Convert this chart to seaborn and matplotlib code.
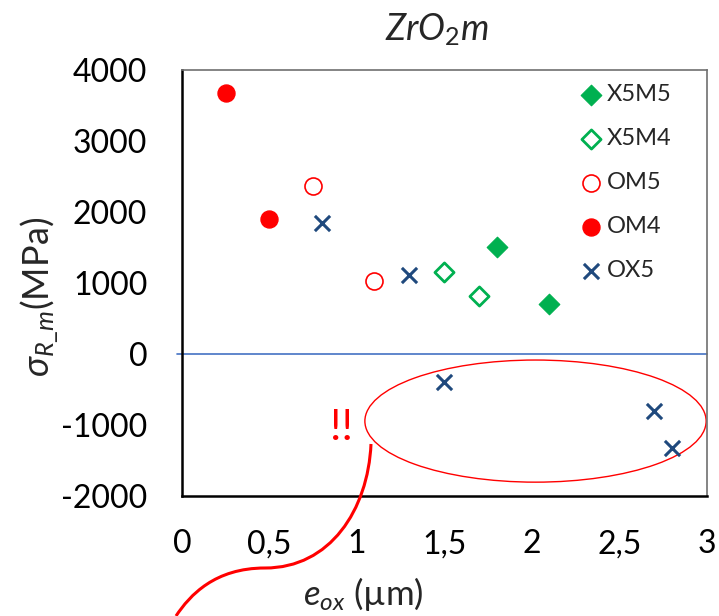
import matplotlib
matplotlib.use("Agg")
import matplotlib.pyplot as plt
import seaborn as sns
import pandas as pd
from matplotlib.patches import Ellipse, PathPatch
from matplotlib.path import Path

sns.set_style("white")
plt.rcParams['font.family'] = ['Lato', 'DejaVu Sans']
plt.rcParams['mathtext.fontset'] = 'custom'
plt.rcParams['mathtext.it'] = 'Lato:italic'
plt.rcParams['mathtext.rm'] = 'Lato'

# data
x5m5_x = [1.8, 2.1]
x5m5_y = [1500, 710]
x5m4_x = [1.5, 1.7]
x5m4_y = [1160, 820]
om5_x = [0.75, 1.1]
om5_y = [2370, 1030]
om4_x = [0.25, 0.5]
om4_y = [3670, 1900]
ox5_x = [0.8, 1.3, 1.5, 2.7, 2.8]
ox5_y = [1850, 1115, -390, -800, -1320]

xticks = [0, 0.5, 1, 1.5, 2, 2.5, 3]
xticklabels = ["0", "0,5", "1", "1,5", "2", "2,5", "3"]
yticks = [-2000, -1000, 0, 1000, 2000, 3000, 4000]

green = "#00B050"
red = "#FF0000"
navy = "#1F497D"

fig = plt.figure(figsize=(7.19, 6.16), dpi=100)
ax = fig.add_axes([182/719, 120/616, 525/719, 426/616])

sns.scatterplot(x=x5m5_x, y=x5m5_y, marker='D', color=green, s=110, edgecolor=green, label="X5M5", ax=ax, zorder=3)
sns.scatterplot(x=x5m4_x, y=x5m4_y, marker='D', facecolor='white', edgecolor=green, linewidth=2, s=95, label="X5M4", ax=ax, zorder=3)
sns.scatterplot(x=om5_x, y=om5_y, marker='o', facecolor='white', edgecolor=red, linewidth=1.2, s=150, label="OM5", ax=ax, zorder=3)
sns.scatterplot(x=om4_x, y=om4_y, marker='o', color=red, edgecolor=red, s=150, label="OM4", ax=ax, zorder=3)
sns.scatterplot(x=ox5_x, y=ox5_y, marker='x', color=navy, linewidth=2.2, s=120, label="OX5", ax=ax, zorder=3)

ax.set_xlim(0, 3)
ax.set_ylim(-2000, 4000)
ax.set_xticks(xticks)
ax.set_xticklabels(xticklabels)
ax.set_yticks(yticks)
ax.set_yticklabels([str(v) for v in yticks])
ax.tick_params(axis='both', direction='in', length=8, width=1.5, labelsize=23, colors='black')
ax.tick_params(axis='y', pad=25)
ax.tick_params(axis='x', pad=24)

for s in ['left', 'bottom']:
    ax.spines[s].set_color('black')
    ax.spines[s].set_linewidth(1.8)
for s in ['top', 'right']:
    ax.spines[s].set_color('#6f6f6f')
    ax.spines[s].set_linewidth(1.2)

# zero line
ax.plot([-0.03, 3], [0, 0], color="#4472C4", lw=1.2, clip_on=False, zorder=2)

# ellipse annotation
ell = Ellipse((2.02, -945), width=1.95, height=1720, fill=False, edgecolor=red, lw=1.0, zorder=2)
ax.add_patch(ell)
ax.text(0.91, -1045, "!!", color=red, fontsize=31, ha='center', va='center')

# S curve outside axes (figure pixel coordinates)
def fp(px, py):
    return (px/719, 1 - py/616)
verts = [fp(371, 444), fp(368, 510), fp(330, 568), fp(265, 568),
         fp(215, 568), fp(190, 595), fp(176, 616)]
codes = [Path.MOVETO, Path.CURVE4, Path.CURVE4, Path.CURVE4, Path.CURVE4, Path.CURVE4, Path.CURVE4]
curve = PathPatch(Path(verts, codes), transform=fig.transFigure, fill=False, edgecolor=red, lw=2.2, zorder=5)
fig.patches.append(curve)

ax.set_xlabel(r"$e_{ox}$ (µm)", fontsize=25, va='center')
ax.xaxis.set_label_coords((363-182)/525, -(594-496)/426)
ax.set_ylabel(r"$\sigma_{R\_m}$(MPa)", fontsize=26, va='center')
ax.yaxis.set_label_coords(-(182-40)/525, (496-297)/426)
fig.text(437/719, 1 - 30/616, r"$ZrO_2m$", fontsize=26, ha='center', va='center')

leg = ax.legend(loc='upper left', bbox_to_anchor=(0.735, 0.99), frameon=False, fontsize=17,
                labelspacing=0.98, handletextpad=0.05, handlelength=1.2, borderaxespad=0)

fig.savefig("out.png", dpi=100)
